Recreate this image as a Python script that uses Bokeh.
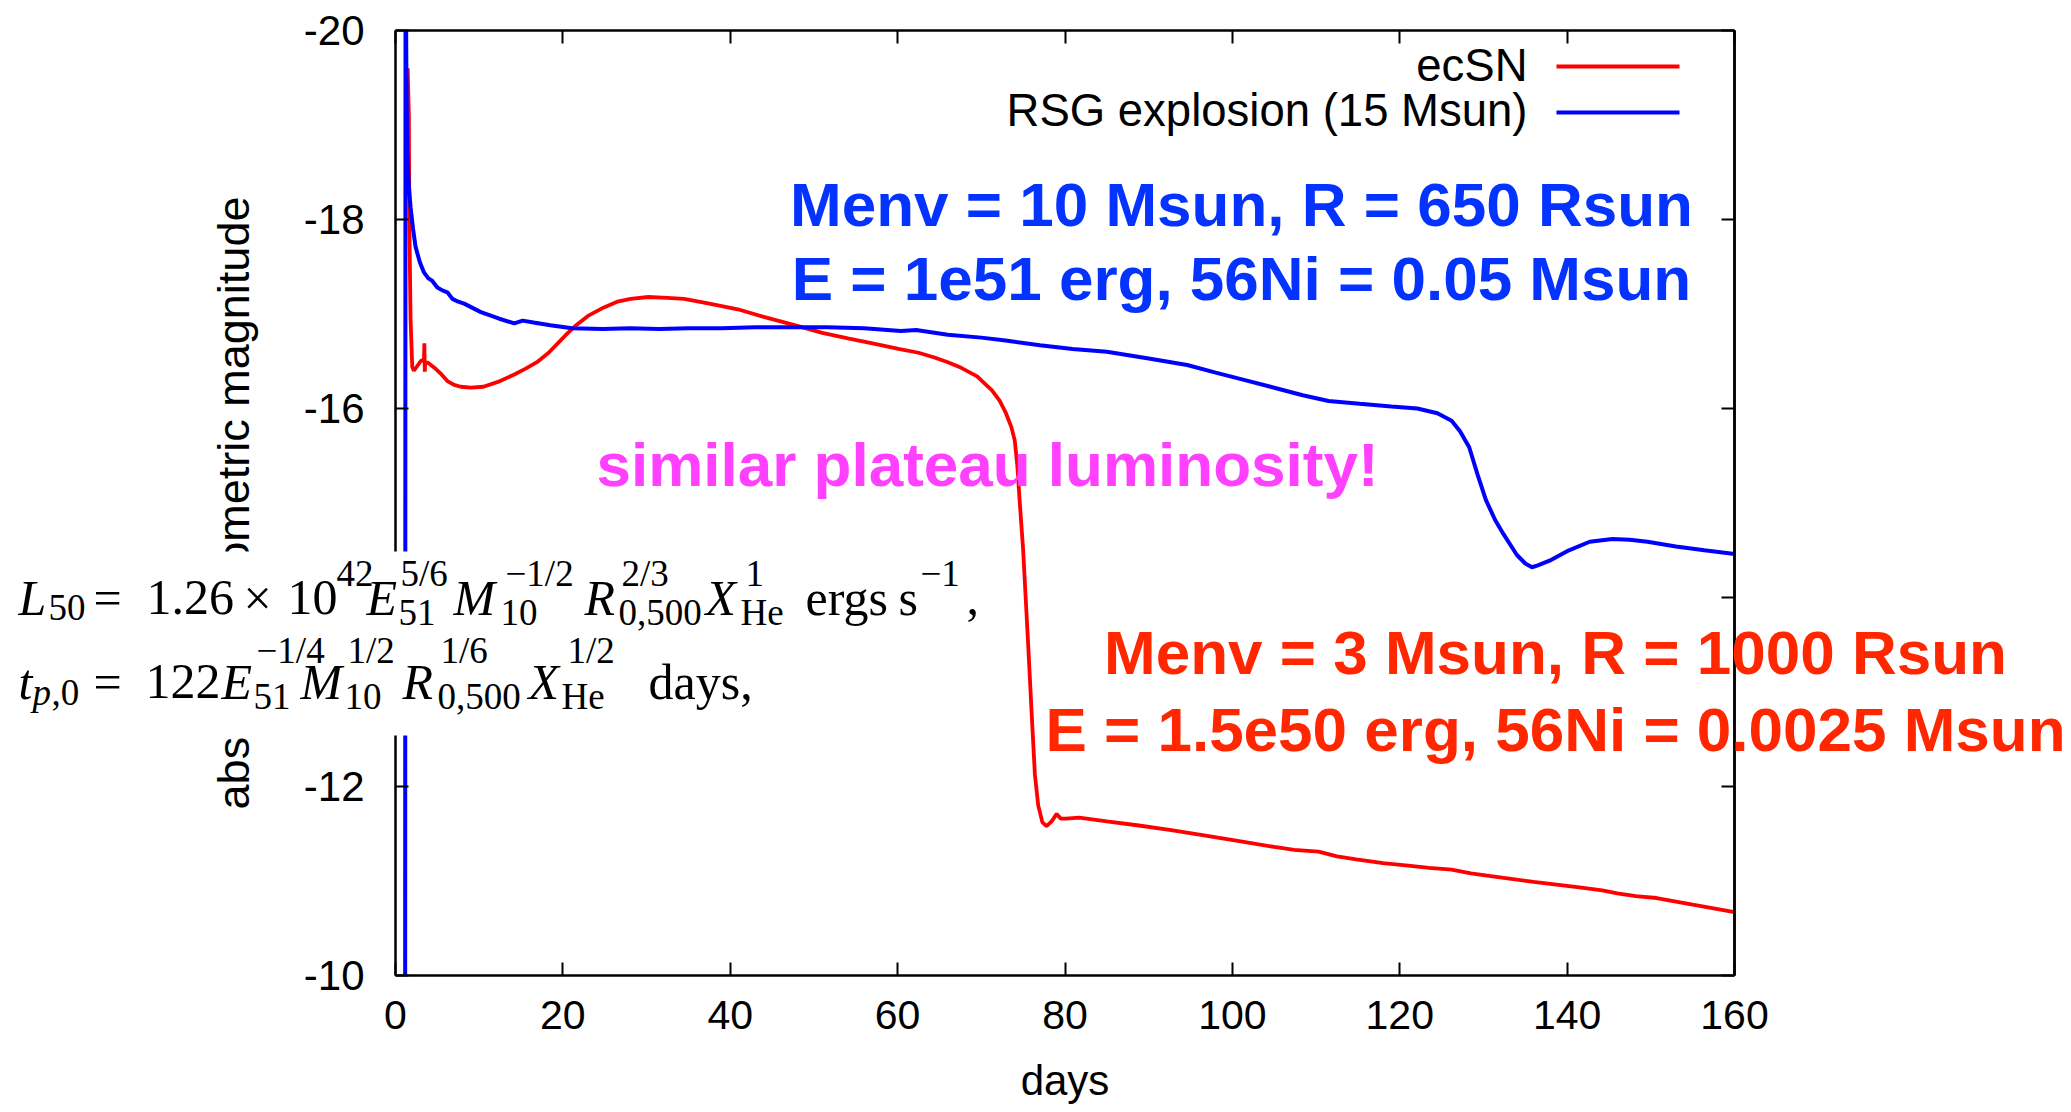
from bokeh.plotting import figure
from bokeh.models import (Range1d, LinearAxis, SingleIntervalTicker, Label,
                          BoxAnnotation, ColumnDataSource, NumeralTickFormatter)
from bokeh.embed import file_html
from bokeh.resources import INLINE

# ---------------- data ----------------
ecsn_days = [1.45, 1.6, 1.65, 1.8, 2.0, 2.2, 2.6, 3.0, 3.4, 3.45, 3.5, 3.55, 3.8, 4.8, 5.5,
             6.2, 7.0, 7.8, 9.0, 10.5, 12.5, 14.2, 15.5, 16.9, 18.3, 19.5, 20.6, 21.7, 23.0,
             24.9, 26.5, 28.1, 30.2, 32.5, 34.5, 37.5, 40.9, 44.0, 47.8, 51.0, 54.2, 57.0,
             60.1, 62.5, 64.4, 66.0, 67.6, 69.5, 71.3, 72.2, 72.9, 73.6, 74.0, 74.3, 74.6,
             75.0, 75.3, 75.6, 76.0, 76.4, 76.8, 77.3, 77.8, 78.4, 79.0, 79.5, 80.1, 81.7,
             85.0, 88.6, 92.5, 96.8, 101.0, 105.0, 107.4, 110.3, 112.5, 114.8, 118.0, 121.3,
             123.5, 126.2, 128.5, 131.1, 136.0, 141.7, 144.2, 146.0, 148.2, 150.7, 155.0, 160.0]
ecsn_mag = [-19.6, -19.1, -18.0, -16.95, -16.44, -16.40, -16.45, -16.50, -16.52, -16.69, -16.39,
            -16.48, -16.49, -16.42, -16.36, -16.29, -16.25, -16.23, -16.22, -16.23, -16.29,
            -16.36, -16.42, -16.49, -16.59, -16.70, -16.80, -16.89, -16.98, -17.07, -17.13,
            -17.16, -17.18, -17.17, -17.16, -17.11, -17.05, -16.97, -16.88, -16.80, -16.74,
            -16.69, -16.63, -16.59, -16.54, -16.49, -16.43, -16.34, -16.19, -16.08, -15.96,
            -15.80, -15.66, -15.40, -15.00, -14.50, -14.00, -13.50, -12.80, -12.13, -11.80,
            -11.62, -11.58, -11.63, -11.71, -11.66, -11.66, -11.67, -11.63, -11.59, -11.54,
            -11.48, -11.42, -11.36, -11.33, -11.31, -11.26, -11.23, -11.19, -11.16, -11.14,
            -11.12, -11.08, -11.05, -10.99, -10.93, -10.90, -10.87, -10.84, -10.82, -10.75,
            -10.67]

rsg_days = [1.15, 1.2, 1.3, 1.4, 1.6, 1.8, 2.1, 2.4, 2.9, 3.4, 3.9, 4.4, 5.0, 5.6, 6.2, 6.8,
            7.5, 8.2, 10.2, 12.4, 14.2, 15.2, 16.5, 18.5, 21.1, 24.8, 28.0, 31.5, 35.0, 39.0,
            43.0, 47.0, 51.6, 56.0, 60.4, 62.2, 66.0, 70.0, 72.9, 77.0, 80.9, 85.0, 90.0, 94.6,
            98.0, 101.5, 105.0, 108.4, 111.5, 115.2, 119.0, 122.1, 124.5, 126.2, 127.2, 128.3,
            129.3, 130.3, 131.4, 132.4, 134.0, 135.0, 135.8, 136.5, 137.9, 140.0, 142.7, 145.4,
            147.5, 149.6, 153.0, 156.4, 160.0]
rsg_mag = [-9.0, -21.0, -19.6, -18.7, -18.35, -18.13, -17.9, -17.71, -17.55, -17.44, -17.38,
           -17.35, -17.28, -17.25, -17.23, -17.16, -17.13, -17.11, -17.02, -16.95, -16.90,
           -16.93, -16.91, -16.88, -16.85, -16.84, -16.85, -16.84, -16.85, -16.85, -16.86,
           -16.86, -16.86, -16.85, -16.82, -16.83, -16.78, -16.75, -16.72, -16.67, -16.63,
           -16.60, -16.53, -16.46, -16.38, -16.30, -16.22, -16.14, -16.08, -16.05, -16.02,
           -16.00, -15.95, -15.87, -15.76, -15.59, -15.30, -15.03, -14.82, -14.67, -14.45,
           -14.36, -14.32, -14.34, -14.39, -14.49, -14.59, -14.62, -14.61, -14.59, -14.54,
           -14.50, -14.46]

x_tick_step = 20
y_tick_step = 2
legend_labels = ["ecSN", "RSG explosion (15 Msun)"]
series_colors = ["#FF0000", "#0000FF"]

blue_note = ["Menv = 10 Msun, R = 650 Rsun", "E = 1e51 erg, 56Ni = 0.05 Msun"]
red_note = ["Menv = 3 Msun, R = 1000 Rsun", "E = 1.5e50 erg, 56Ni = 0.0025 Msun"]
pink_note = "similar plateau luminosity!"

# ---------------- layout ----------------
W, H = 2070, 1110
FL, FT, FW, FH = 395, 30, 1339, 945
XMIN, XMAX, YTOP, YBOT = 0, 160, -20, -10
SANS = "Liberation Sans"
SERIF = "Liberation Serif"
K_BASE = 0.38   # baseline correction (fraction of font size) for overlay labels

p = figure(width=W, height=H, output_backend="svg", toolbar_location=None,
           x_range=Range1d(XMIN, XMAX), y_range=Range1d(YBOT, YTOP),
           min_border_left=FL, min_border_top=FT,
           min_border_right=W - FL - FW, min_border_bottom=H - FT - FH,
           x_axis_label="days", y_axis_label="absolute bolometric magnitude",
           background_fill_color="white", border_fill_color="white")
p.outline_line_color = None
p.grid.visible = False

p.xaxis.ticker = SingleIntervalTicker(interval=x_tick_step, num_minor_ticks=0)
p.yaxis.ticker = SingleIntervalTicker(interval=y_tick_step, num_minor_ticks=0)
p.xaxis.formatter = NumeralTickFormatter(format="0")
p.yaxis.formatter = NumeralTickFormatter(format="0")


def style_axis(ax):
    ax.axis_line_width = 2.5
    ax.axis_line_color = "black"
    ax.major_tick_in = 13
    ax.major_tick_out = 0
    ax.major_tick_line_width = 2
    ax.minor_tick_line_color = None
    ax.major_label_text_font = SANS
    ax.axis_label_text_font = SANS
    ax.axis_label_text_font_style = "normal"
    ax.axis_label_text_color = "black"
    ax.major_label_text_color = "black"


for ax in p.xaxis + p.yaxis:
    style_axis(ax)
p.xaxis.major_label_text_font_size = "41px"
p.xaxis.major_label_standoff = 25
p.xaxis.axis_label_text_font_size = "42px"
p.xaxis.axis_label_standoff = 25
p.yaxis.major_label_text_font_size = "42px"
p.yaxis.major_label_standoff = 31
p.yaxis.axis_label_text_font_size = "45px"
p.yaxis.axis_label_standoff = 42

# mirrored tick marks on top and right (gnuplot border ticks), no labels drawn
top_ax = LinearAxis(ticker=SingleIntervalTicker(interval=x_tick_step, num_minor_ticks=0))
right_ax = LinearAxis(ticker=SingleIntervalTicker(interval=y_tick_step, num_minor_ticks=0))
for ax in (top_ax, right_ax):
    style_axis(ax)
    ax.major_label_text_color = None
    ax.major_label_text_font_size = "1px"
    ax.major_label_standoff = 0
p.add_layout(top_ax, "above")
p.add_layout(right_ax, "right")

p.line(ecsn_days, ecsn_mag, line_color=series_colors[0], line_width=3.8)
p.line(rsg_days, rsg_mag, line_color=series_colors[1], line_width=4.0)

# ---------------- overlay (slide annotations, page-pixel coordinates) ----------------
ov = figure(width=W, height=H, output_backend="svg", toolbar_location=None,
            x_range=Range1d(0, W), y_range=Range1d(H, 0),
            x_axis_location=None, y_axis_location=None, min_border=0,
            background_fill_color=None, border_fill_color=None,
            styles={"position": "absolute", "left": "0px", "top": "0px"})
ov.outline_line_color = None
ov.grid.visible = False


def text_at(x, base, text, size, align="left", font=SANS, style="normal", color="black"):
    ov.add_layout(Label(x=x, y=base - K_BASE * size, text=text, text_align=align,
                        text_baseline="alphabetic", text_font=font, text_font_style=style,
                        text_font_size=f"{size}px", text_color=color))


# legend, gnuplot style (text right-aligned, sample to its right)
leg_base = [82, 127]
leg_rows = [66, 112]
for i, lab in enumerate(legend_labels):
    text_at(1527, leg_base[i], lab, 45.5, align="right")
leg_src = ColumnDataSource(dict(x0=[1556] * 2, x1=[1679] * 2, y=leg_rows, c=series_colors))
ov.segment(x0="x0", y0="y", x1="x1", y1="y", color="c", line_width=3.8, source=leg_src)

# bold slide notes
text_at(1241, 228, blue_note[0], 62, "center", style="bold", color="#0433FF")
text_at(1241, 302, blue_note[1], 62, "center", style="bold", color="#0433FF")
text_at(987, 488, pink_note, 62, "center", style="bold", color="#FF40FF")
text_at(1555, 676, red_note[0], 62, "center", style="bold", color="#FF2600")
text_at(1555, 753, red_note[1], 62, "center", style="bold", color="#FF2600")

# right frame edge stays visible on top of the red note
ov.segment(x0=[FL + FW], y0=[FT], x1=[FL + FW], y1=[FT + FH], color="black", line_width=2.5)

# pasted equation on its white patch
ov.add_layout(BoxAnnotation(left=-5, right=985, top=551, bottom=735,
                            fill_color="white", fill_alpha=1.0, line_color=None))

F, f = 50, 37
B1 = 616
S1, D1 = B1 - 29, B1 + 10
B2 = 700
S2, D2 = B2 - 36, B2 + 10
eq_pieces = [
    (18, B1, "L", F, True), (48, B1 + 5, "50", f, False), (93, B1, "=", F, False),
    (146, B1, "1.26", F, False), (243, B1, "\u00d7", F, False), (287, B1, "10", F, False),
    (336, S1, "42", f, False), (366, B1, "E", F, True), (400, S1, "5/6", f, False),
    (398, D1, "51", f, False), (453, B1, "M", F, True), (505, S1, "\u22121/2", f, False),
    (500, D1, "10", f, False), (584, B1, "R", F, True), (621, S1, "2/3", f, False),
    (618, D1, "0,500", f, False), (705, B1, "X", F, True), (745, S1, "1", f, False),
    (740, D1, "He", f, False), (805, B1, "ergs", F, False), (898, B1, "s", F, False),
    (920, S1, "\u22121", f, False), (966, B1, ",", F, False),
    (18, B2, "t", F, True), (32, B2 + 6, "p", f, True), (51, B2 + 6, ",0", f, False),
    (93, B2, "=", F, False), (145, B2, "122", F, False), (221, B2, "E", F, True),
    (256, S2, "\u22121/4", f, False), (253, D2, "51", f, False), (300, B2, "M", F, True),
    (347, S2, "1/2", f, False), (344, D2, "10", f, False), (402, B2, "R", F, True),
    (440, S2, "1/6", f, False), (437, D2, "0,500", f, False), (528, B2, "X", F, True),
    (567, S2, "1/2", f, False), (561, D2, "He", f, False), (648, B2, "days,", F, False),
]
for (px, py, txt, size, it) in eq_pieces:
    text_at(px, py, txt, size, font=SERIF, style="italic" if it else "normal")

open("out.html", "w").write(file_html([p, ov], INLINE))
